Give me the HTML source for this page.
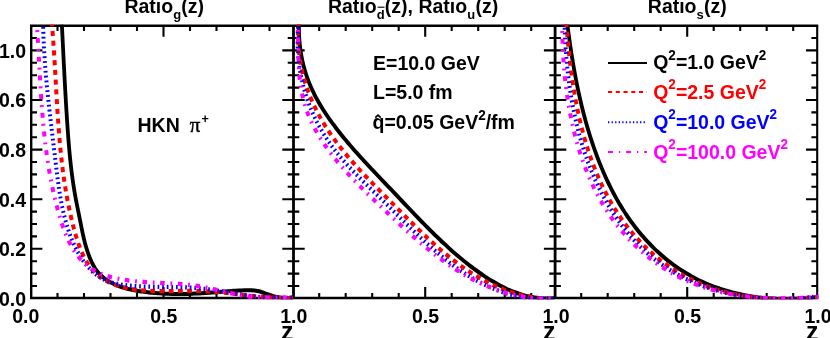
<!DOCTYPE html>
<html><head><meta charset="utf-8"><title>plot</title>
<style>html,body{margin:0;padding:0;background:#fff;}svg{display:block;will-change:transform;}text{font-family:"Liberation Sans",sans-serif;font-weight:bold;font-size:19.5px;fill:#000;}</style></head><body>
<svg width="830" height="338" viewBox="0 0 830 338">
<rect width="830" height="338" fill="#fff"/>
<defs>
<clipPath id="c1"><rect x="30.20" y="24.80" width="263.30" height="274.50"/></clipPath>
<clipPath id="c2"><rect x="293.50" y="24.80" width="261.60" height="274.50"/></clipPath>
<clipPath id="c3"><rect x="555.10" y="24.80" width="263.10" height="274.50"/></clipPath>
</defs>
<g stroke="#000" fill="none" stroke-linecap="butt">
<path d="M30.00,25.80 H818.25" stroke-width="2.4"/>
<path d="M30.00,298.00 H818.25" stroke-width="2.7"/>
<path d="M31.20,25.80 V298.00" stroke-width="2.4"/>
<path d="M817.20,25.80 V298.00" stroke-width="2.1"/>
<path d="M293.50,25.80 V298.00 M555.10,25.80 V298.00" stroke-width="2.8"/>
<path d="M31.20,286.00 h5.80 M287.70,286.00 h11.60 M549.30,286.00 h11.60 M817.20,286.00 h-5.80 M31.20,273.60 h5.80 M287.70,273.60 h11.60 M549.30,273.60 h11.60 M817.20,273.60 h-5.80 M31.20,261.20 h5.80 M287.70,261.20 h11.60 M549.30,261.20 h11.60 M817.20,261.20 h-5.80 M31.20,248.80 h11.20 M282.30,248.80 h22.40 M543.90,248.80 h22.40 M817.20,248.80 h-11.20 M31.20,236.40 h5.80 M287.70,236.40 h11.60 M549.30,236.40 h11.60 M817.20,236.40 h-5.80 M31.20,224.00 h5.80 M287.70,224.00 h11.60 M549.30,224.00 h11.60 M817.20,224.00 h-5.80 M31.20,211.60 h5.80 M287.70,211.60 h11.60 M549.30,211.60 h11.60 M817.20,211.60 h-5.80 M31.20,199.20 h11.20 M282.30,199.20 h22.40 M543.90,199.20 h22.40 M817.20,199.20 h-11.20 M31.20,186.80 h5.80 M287.70,186.80 h11.60 M549.30,186.80 h11.60 M817.20,186.80 h-5.80 M31.20,174.40 h5.80 M287.70,174.40 h11.60 M549.30,174.40 h11.60 M817.20,174.40 h-5.80 M31.20,162.00 h5.80 M287.70,162.00 h11.60 M549.30,162.00 h11.60 M817.20,162.00 h-5.80 M31.20,149.60 h11.20 M282.30,149.60 h22.40 M543.90,149.60 h22.40 M817.20,149.60 h-11.20 M31.20,137.20 h5.80 M287.70,137.20 h11.60 M549.30,137.20 h11.60 M817.20,137.20 h-5.80 M31.20,124.80 h5.80 M287.70,124.80 h11.60 M549.30,124.80 h11.60 M817.20,124.80 h-5.80 M31.20,112.40 h5.80 M287.70,112.40 h11.60 M549.30,112.40 h11.60 M817.20,112.40 h-5.80 M31.20,100.00 h11.20 M282.30,100.00 h22.40 M543.90,100.00 h22.40 M817.20,100.00 h-11.20 M31.20,87.60 h5.80 M287.70,87.60 h11.60 M549.30,87.60 h11.60 M817.20,87.60 h-5.80 M31.20,75.20 h5.80 M287.70,75.20 h11.60 M549.30,75.20 h11.60 M817.20,75.20 h-5.80 M31.20,62.80 h5.80 M287.70,62.80 h11.60 M549.30,62.80 h11.60 M817.20,62.80 h-5.80 M31.20,50.40 h11.20 M282.30,50.40 h22.40 M543.90,50.40 h22.40 M817.20,50.40 h-11.20 M31.20,38.00 h5.80 M287.70,38.00 h11.60 M549.30,38.00 h11.60 M817.20,38.00 h-5.80 M57.50,298.00 v-5.00 M57.50,25.80 v5.20 M84.00,298.00 v-5.00 M84.00,25.80 v5.20 M110.50,298.00 v-5.00 M110.50,25.80 v5.20 M137.00,298.00 v-5.00 M137.00,25.80 v5.20 M163.50,298.00 v-10.90 M163.50,25.80 v10.90 M190.00,298.00 v-5.00 M190.00,25.80 v5.20 M216.50,298.00 v-5.00 M216.50,25.80 v5.20 M243.00,298.00 v-5.00 M243.00,25.80 v5.20 M269.50,298.00 v-5.00 M269.50,25.80 v5.20 M319.20,298.00 v-5.00 M319.20,25.80 v5.20 M345.70,298.00 v-5.00 M345.70,25.80 v5.20 M372.20,298.00 v-5.00 M372.20,25.80 v5.20 M398.70,298.00 v-5.00 M398.70,25.80 v5.20 M425.20,298.00 v-10.90 M425.20,25.80 v10.90 M451.70,298.00 v-5.00 M451.70,25.80 v5.20 M478.20,298.00 v-5.00 M478.20,25.80 v5.20 M504.70,298.00 v-5.00 M504.70,25.80 v5.20 M531.20,298.00 v-5.00 M531.20,25.80 v5.20 M581.20,298.00 v-5.00 M581.20,25.80 v5.20 M607.70,298.00 v-5.00 M607.70,25.80 v5.20 M634.20,298.00 v-5.00 M634.20,25.80 v5.20 M660.70,298.00 v-5.00 M660.70,25.80 v5.20 M687.20,298.00 v-10.90 M687.20,25.80 v10.90 M713.70,298.00 v-5.00 M713.70,25.80 v5.20 M740.20,298.00 v-5.00 M740.20,25.80 v5.20 M766.70,298.00 v-5.00 M766.70,25.80 v5.20 M793.20,298.00 v-5.00 M793.20,25.80 v5.20" stroke-width="2.1"/>
</g>
<g clip-path="url(#c1)" fill="none"><g transform="scale(1,1.060)">
<path d="M61.63,18.88 C61.65,19.39 61.74,20.94 61.80,21.97 C61.85,23.00 61.91,24.03 61.96,25.07 C62.02,26.10 62.07,27.13 62.13,28.16 C62.19,29.20 62.24,30.23 62.30,31.26 C62.35,32.29 62.41,33.33 62.46,34.36 C62.52,35.39 62.57,36.43 62.63,37.46 C62.68,38.50 62.74,39.53 62.79,40.56 C62.84,41.60 62.90,42.63 62.95,43.67 C63.01,44.70 63.06,45.74 63.12,46.77 C63.17,47.80 63.23,48.84 63.28,49.87 C63.34,50.91 63.39,51.95 63.45,52.98 C63.50,54.02 63.56,55.05 63.61,56.09 C63.67,57.12 63.72,58.16 63.78,59.19 C63.84,60.23 63.89,61.27 63.95,62.30 C64.00,63.34 64.06,64.37 64.12,65.41 C64.17,66.45 64.23,67.48 64.29,68.52 C64.34,69.55 64.40,70.59 64.46,71.63 C64.52,72.66 64.57,73.70 64.63,74.74 C64.69,75.77 64.75,76.81 64.81,77.84 C64.87,78.88 64.93,79.92 64.99,80.95 C65.05,81.99 65.11,83.03 65.17,84.06 C65.23,85.10 65.29,86.14 65.35,87.17 C65.41,88.21 65.48,89.24 65.54,90.28 C65.60,91.32 65.67,92.35 65.73,93.39 C65.79,94.43 65.86,95.46 65.92,96.50 C65.99,97.53 66.05,98.57 66.12,99.61 C66.19,100.64 66.25,101.68 66.32,102.71 C66.39,103.75 66.46,104.79 66.53,105.82 C66.59,106.86 66.66,107.89 66.74,108.93 C66.81,109.96 66.88,111.00 66.95,112.03 C67.02,113.07 67.09,114.10 67.17,115.14 C67.24,116.17 67.31,117.21 67.39,118.24 C67.46,119.28 67.54,120.31 67.62,121.34 C67.69,122.38 67.77,123.41 67.85,124.45 C67.93,125.48 68.01,126.51 68.09,127.55 C68.18,128.58 68.26,129.61 68.34,130.65 C68.43,131.68 68.52,132.71 68.60,133.75 C68.69,134.78 68.78,135.81 68.87,136.84 C68.97,137.88 69.06,138.91 69.16,139.94 C69.25,140.97 69.35,142.00 69.45,143.03 C69.55,144.06 69.65,145.10 69.76,146.13 C69.86,147.16 69.97,148.19 70.08,149.22 C70.19,150.25 70.30,151.28 70.42,152.31 C70.53,153.34 70.65,154.37 70.77,155.39 C70.90,156.42 71.02,157.45 71.15,158.48 C71.28,159.51 71.41,160.54 71.54,161.56 C71.68,162.59 71.81,163.62 71.95,164.64 C72.10,165.67 72.24,166.70 72.39,167.72 C72.54,168.75 72.69,169.78 72.85,170.80 C73.00,171.83 73.16,172.85 73.33,173.88 C73.49,174.90 73.66,175.93 73.83,176.95 C74.00,177.97 74.18,179.00 74.36,180.02 C74.54,181.04 74.73,182.06 74.92,183.09 C75.11,184.11 75.30,185.13 75.50,186.15 C75.70,187.17 75.90,188.19 76.11,189.21 C76.32,190.23 76.53,191.25 76.74,192.27 C76.95,193.29 77.17,194.31 77.38,195.33 C77.60,196.35 77.81,197.37 78.03,198.38 C78.25,199.40 78.47,200.42 78.69,201.43 C78.91,202.45 79.12,203.47 79.34,204.48 C79.56,205.50 79.78,206.51 79.99,207.53 C80.20,208.54 80.42,209.55 80.63,210.57 C80.84,211.58 81.05,212.59 81.27,213.60 C81.48,214.61 81.70,215.63 81.92,216.64 C82.13,217.64 82.36,218.65 82.58,219.66 C82.81,220.67 83.04,221.67 83.28,222.68 C83.52,223.68 83.77,224.69 84.03,225.69 C84.28,226.69 84.55,227.69 84.82,228.69 C85.10,229.69 85.38,230.69 85.68,231.68 C85.98,232.68 86.29,233.67 86.61,234.66 C86.94,235.65 87.27,236.64 87.63,237.63 C87.98,238.62 88.35,239.61 88.74,240.59 C89.13,241.57 89.53,242.55 89.96,243.53 C90.38,244.51 90.83,245.49 91.29,246.46 C91.76,247.43 92.25,248.40 92.76,249.35 C93.28,250.29 93.82,251.23 94.39,252.14 C94.97,253.04 95.57,253.93 96.21,254.78 C96.85,255.62 97.53,256.43 98.24,257.21 C98.94,257.99 99.69,258.73 100.46,259.45 C101.23,260.16 102.03,260.84 102.86,261.49 C103.68,262.14 104.54,262.76 105.42,263.35 C106.30,263.94 107.20,264.50 108.12,265.03 C109.05,265.57 109.99,266.07 110.95,266.56 C111.91,267.04 112.90,267.50 113.89,267.93 C114.88,268.36 115.89,268.77 116.91,269.16 C117.93,269.55 118.97,269.91 120.01,270.26 C121.05,270.61 122.10,270.93 123.16,271.24 C124.22,271.54 125.28,271.83 126.35,272.10 C127.42,272.37 128.49,272.63 129.57,272.87 C130.65,273.11 131.74,273.33 132.82,273.54 C133.91,273.75 135.00,273.95 136.09,274.14 C137.19,274.32 138.28,274.49 139.38,274.66 C140.47,274.82 141.57,274.98 142.66,275.12 C143.76,275.27 144.86,275.40 145.95,275.53 C147.05,275.66 148.14,275.79 149.24,275.90 C150.33,276.02 151.43,276.12 152.52,276.22 C153.61,276.32 154.71,276.42 155.80,276.50 C156.89,276.59 157.99,276.67 159.08,276.74 C160.17,276.82 161.27,276.88 162.36,276.94 C163.45,277.00 164.54,277.05 165.64,277.10 C166.73,277.15 167.82,277.19 168.91,277.22 C170.01,277.26 171.10,277.29 172.19,277.31 C173.28,277.33 174.38,277.35 175.47,277.36 C176.56,277.37 177.66,277.37 178.75,277.37 C179.85,277.37 180.94,277.37 182.03,277.36 C183.13,277.35 184.22,277.33 185.32,277.31 C186.42,277.29 187.51,277.26 188.61,277.23 C189.71,277.20 190.80,277.16 191.90,277.12 C193.00,277.08 194.10,277.04 195.20,276.99 C196.30,276.94 197.40,276.88 198.50,276.82 C199.60,276.77 200.70,276.70 201.81,276.64 C202.91,276.57 204.01,276.50 205.12,276.43 C206.22,276.35 207.33,276.28 208.43,276.20 C209.54,276.12 210.64,276.04 211.75,275.96 C212.86,275.88 213.96,275.79 215.07,275.71 C216.17,275.63 217.28,275.54 218.38,275.46 C219.49,275.37 220.59,275.29 221.69,275.21 C222.80,275.12 223.90,275.04 225.00,274.96 C226.10,274.88 227.20,274.80 228.30,274.73 C229.40,274.65 230.50,274.58 231.60,274.51 C232.69,274.44 233.79,274.37 234.88,274.31 C235.97,274.25 237.07,274.19 238.15,274.14 C239.24,274.09 240.33,274.04 241.42,273.99 C242.50,273.95 243.58,273.91 244.66,273.88 C245.74,273.86 246.82,273.82 247.90,273.82 C248.97,273.81 250.04,273.80 251.12,273.84 C252.19,273.88 253.26,273.93 254.32,274.04 C255.39,274.14 256.46,274.28 257.52,274.49 C258.59,274.70 259.65,274.98 260.71,275.28 C261.78,275.59 262.84,275.96 263.90,276.32 C264.97,276.68 266.03,277.06 267.09,277.41 C268.16,277.77 269.22,278.13 270.29,278.45 C271.35,278.78 272.42,279.10 273.48,279.38 C274.55,279.66 275.62,279.92 276.69,280.14 C277.76,280.36 278.83,280.55 279.91,280.69 C280.98,280.82 282.06,280.91 283.14,280.98 C284.22,281.04 285.30,281.06 286.39,281.06 C287.47,281.07 288.56,281.04 289.66,281.02 C290.75,281.00 292.40,280.94 292.95,280.92" stroke="#000" stroke-width="3.8"/>
<path d="M51.55,18.87 C51.62,19.60 51.83,21.80 51.97,23.26 C52.10,24.73 52.23,26.19 52.36,27.66 C52.49,29.12 52.61,30.59 52.73,32.06 C52.85,33.52 52.97,34.99 53.09,36.46 C53.20,37.92 53.31,39.39 53.42,40.86 C53.53,42.32 53.64,43.79 53.74,45.26 C53.85,46.72 53.95,48.19 54.05,49.66 C54.15,51.12 54.24,52.59 54.34,54.06 C54.44,55.53 54.53,56.99 54.62,58.46 C54.72,59.93 54.81,61.40 54.90,62.86 C54.99,64.33 55.08,65.80 55.17,67.27 C55.26,68.73 55.34,70.20 55.43,71.67 C55.52,73.14 55.60,74.60 55.69,76.07 C55.78,77.54 55.86,79.00 55.95,80.47 C56.04,81.94 56.13,83.40 56.21,84.87 C56.30,86.34 56.39,87.80 56.48,89.27 C56.57,90.74 56.66,92.20 56.75,93.67 C56.84,95.13 56.93,96.60 57.02,98.06 C57.12,99.53 57.21,101.00 57.31,102.46 C57.40,103.92 57.50,105.39 57.60,106.85 C57.70,108.32 57.80,109.78 57.91,111.25 C58.01,112.71 58.12,114.17 58.23,115.64 C58.34,117.10 58.45,118.56 58.57,120.02 C58.68,121.49 58.80,122.95 58.92,124.41 C59.05,125.87 59.17,127.33 59.30,128.79 C59.43,130.25 59.56,131.71 59.70,133.17 C59.83,134.63 59.97,136.09 60.12,137.55 C60.26,139.01 60.41,140.47 60.56,141.93 C60.72,143.38 60.87,144.84 61.04,146.30 C61.20,147.76 61.37,149.21 61.54,150.67 C61.71,152.12 61.89,153.58 62.07,155.03 C62.26,156.49 62.45,157.94 62.64,159.39 C62.84,160.85 63.04,162.30 63.24,163.75 C63.45,165.20 63.66,166.66 63.88,168.11 C64.10,169.56 64.33,171.01 64.56,172.46 C64.79,173.91 65.03,175.35 65.28,176.80 C65.53,178.25 65.78,179.70 66.04,181.14 C66.30,182.59 66.57,184.03 66.84,185.48 C67.12,186.92 67.40,188.37 67.70,189.81 C67.99,191.25 68.29,192.70 68.60,194.14 C68.90,195.58 69.22,197.02 69.54,198.46 C69.87,199.90 70.20,201.34 70.55,202.77 C70.89,204.21 71.24,205.65 71.60,207.09 C71.96,208.52 72.33,209.96 72.71,211.39 C73.09,212.82 73.48,214.26 73.88,215.69 C74.28,217.12 74.69,218.55 75.12,219.98 C75.55,221.40 75.99,222.83 76.45,224.25 C76.92,225.67 77.40,227.08 77.91,228.49 C78.41,229.90 78.94,231.30 79.50,232.70 C80.06,234.09 80.64,235.49 81.26,236.86 C81.87,238.24 82.52,239.62 83.20,240.97 C83.88,242.32 84.60,243.67 85.35,244.97 C86.11,246.27 86.90,247.56 87.74,248.80 C88.58,250.04 89.46,251.24 90.38,252.39 C91.31,253.54 92.29,254.65 93.31,255.69 C94.33,256.74 95.40,257.72 96.52,258.66 C97.63,259.59 98.79,260.47 99.99,261.30 C101.19,262.13 102.43,262.91 103.70,263.65 C104.98,264.38 106.29,265.06 107.63,265.71 C108.97,266.35 110.35,266.94 111.74,267.50 C113.14,268.06 114.57,268.57 116.02,269.04 C117.47,269.52 118.94,269.96 120.43,270.36 C121.92,270.76 123.43,271.12 124.96,271.46 C126.48,271.79 128.02,272.09 129.57,272.36 C131.11,272.63 132.67,272.87 134.24,273.09 C135.80,273.30 137.37,273.49 138.94,273.65 C140.51,273.82 142.08,273.96 143.66,274.08 C145.23,274.20 146.81,274.29 148.38,274.38 C149.96,274.46 151.54,274.52 153.11,274.57 C154.69,274.62 156.27,274.65 157.85,274.67 C159.42,274.69 161.00,274.70 162.58,274.70 C164.16,274.70 165.74,274.69 167.31,274.68 C168.89,274.66 170.47,274.64 172.04,274.62 C173.62,274.59 175.19,274.57 176.77,274.54 C178.34,274.51 179.91,274.48 181.49,274.46 C183.06,274.44 184.63,274.41 186.19,274.40 C187.76,274.38 189.33,274.37 190.89,274.37 C192.46,274.37 194.02,274.38 195.58,274.40 C197.14,274.42 198.69,274.45 200.25,274.50 C201.80,274.54 203.35,274.60 204.90,274.67 C206.45,274.75 207.99,274.83 209.54,274.93 C211.08,275.03 212.62,275.14 214.16,275.25 C215.70,275.37 217.24,275.50 218.77,275.64 C220.31,275.77 221.85,275.91 223.38,276.06 C224.92,276.21 226.45,276.37 227.98,276.52 C229.51,276.68 231.05,276.85 232.58,277.01 C234.11,277.18 235.64,277.35 237.17,277.52 C238.71,277.69 240.24,277.86 241.77,278.03 C243.30,278.19 244.84,278.36 246.37,278.53 C247.91,278.70 249.44,278.86 250.98,279.02 C252.51,279.18 254.05,279.33 255.59,279.48 C257.13,279.63 258.67,279.77 260.22,279.91 C261.76,280.04 263.30,280.17 264.85,280.29 C266.40,280.40 267.95,280.51 269.50,280.61 C271.06,280.71 272.61,280.79 274.17,280.87 C275.73,280.94 277.29,281.00 278.86,281.04 C280.43,281.09 281.99,281.12 283.57,281.13 C285.14,281.15 286.72,281.15 288.30,281.13 C289.88,281.11 292.27,281.03 293.06,281.01" stroke="#ff0000" stroke-width="4" stroke-dasharray="4.8 4.4" stroke-dashoffset="8.0"/>
<path d="M43.11,18.89 C43.12,19.62 43.14,21.82 43.16,23.29 C43.19,24.75 43.22,26.22 43.26,27.69 C43.30,29.16 43.34,30.63 43.39,32.10 C43.44,33.57 43.49,35.04 43.56,36.51 C43.62,37.98 43.68,39.46 43.76,40.93 C43.83,42.40 43.91,43.88 43.99,45.35 C44.08,46.82 44.16,48.30 44.26,49.77 C44.35,51.25 44.45,52.72 44.55,54.20 C44.66,55.67 44.77,57.15 44.88,58.62 C44.99,60.10 45.11,61.58 45.23,63.05 C45.35,64.53 45.48,66.01 45.60,67.49 C45.73,68.96 45.87,70.44 46.00,71.92 C46.14,73.39 46.28,74.87 46.43,76.35 C46.57,77.83 46.72,79.31 46.87,80.78 C47.02,82.26 47.17,83.74 47.33,85.22 C47.48,86.69 47.64,88.17 47.81,89.65 C47.97,91.13 48.13,92.61 48.30,94.08 C48.47,95.56 48.64,97.04 48.81,98.51 C48.98,99.99 49.15,101.47 49.33,102.94 C49.50,104.42 49.68,105.90 49.86,107.37 C50.04,108.85 50.22,110.33 50.40,111.80 C50.58,113.28 50.77,114.75 50.95,116.22 C51.13,117.70 51.32,119.17 51.50,120.65 C51.69,122.12 51.88,123.59 52.06,125.06 C52.25,126.54 52.44,128.01 52.63,129.48 C52.82,130.95 53.00,132.42 53.19,133.89 C53.38,135.36 53.57,136.83 53.76,138.30 C53.94,139.77 54.13,141.23 54.32,142.70 C54.51,144.17 54.69,145.63 54.88,147.10 C55.06,148.56 55.25,150.03 55.43,151.49 C55.62,152.95 55.80,154.42 55.99,155.88 C56.17,157.34 56.35,158.80 56.54,160.26 C56.73,161.72 56.91,163.18 57.11,164.63 C57.30,166.09 57.50,167.55 57.70,169.00 C57.90,170.46 58.10,171.91 58.32,173.36 C58.53,174.82 58.75,176.27 58.98,177.72 C59.20,179.17 59.44,180.62 59.68,182.06 C59.93,183.51 60.18,184.96 60.45,186.40 C60.71,187.85 60.99,189.29 61.28,190.73 C61.57,192.17 61.87,193.61 62.19,195.05 C62.50,196.49 62.83,197.93 63.18,199.37 C63.52,200.80 63.88,202.24 64.26,203.67 C64.64,205.10 65.03,206.53 65.45,207.96 C65.86,209.39 66.29,210.82 66.74,212.24 C67.20,213.67 67.67,215.09 68.16,216.52 C68.65,217.94 69.17,219.36 69.71,220.77 C70.25,222.18 70.81,223.59 71.40,224.99 C71.98,226.39 72.60,227.78 73.24,229.15 C73.88,230.53 74.55,231.89 75.24,233.24 C75.94,234.59 76.67,235.92 77.43,237.23 C78.18,238.54 78.97,239.84 79.80,241.10 C80.62,242.37 81.47,243.62 82.37,244.84 C83.26,246.06 84.18,247.26 85.15,248.42 C86.11,249.59 87.11,250.72 88.15,251.82 C89.19,252.93 90.28,254.00 91.39,255.03 C92.51,256.06 93.67,257.06 94.87,257.99 C96.06,258.93 97.29,259.83 98.56,260.65 C99.82,261.47 101.11,262.23 102.44,262.91 C103.76,263.60 105.12,264.20 106.50,264.75 C107.87,265.30 109.28,265.78 110.71,266.22 C112.14,266.65 113.59,267.02 115.06,267.36 C116.53,267.70 118.02,267.98 119.52,268.24 C121.03,268.50 122.55,268.72 124.08,268.91 C125.61,269.11 127.16,269.27 128.72,269.42 C130.27,269.56 131.84,269.68 133.41,269.79 C134.98,269.90 136.56,269.99 138.14,270.06 C139.71,270.14 141.30,270.21 142.88,270.27 C144.47,270.32 146.05,270.37 147.64,270.41 C149.23,270.46 150.81,270.49 152.40,270.52 C153.99,270.55 155.58,270.58 157.17,270.60 C158.76,270.62 160.36,270.64 161.95,270.66 C163.54,270.68 165.13,270.70 166.72,270.72 C168.31,270.74 169.90,270.76 171.49,270.78 C173.08,270.81 174.66,270.83 176.25,270.87 C177.84,270.90 179.42,270.94 181.01,270.98 C182.59,271.03 184.17,271.08 185.75,271.15 C187.33,271.21 188.91,271.28 190.48,271.37 C192.05,271.45 193.62,271.55 195.19,271.66 C196.76,271.77 198.32,271.89 199.88,272.03 C201.45,272.17 203.00,272.32 204.56,272.49 C206.11,272.66 207.66,272.84 209.21,273.03 C210.76,273.23 212.30,273.43 213.84,273.65 C215.39,273.86 216.93,274.08 218.46,274.31 C220.00,274.54 221.54,274.78 223.08,275.02 C224.61,275.26 226.14,275.50 227.68,275.75 C229.21,275.99 230.74,276.24 232.28,276.49 C233.81,276.73 235.34,276.98 236.88,277.23 C238.41,277.47 239.94,277.71 241.48,277.95 C243.01,278.18 244.54,278.42 246.08,278.64 C247.62,278.86 249.15,279.08 250.69,279.29 C252.23,279.49 253.77,279.69 255.32,279.87 C256.86,280.06 258.41,280.23 259.96,280.39 C261.50,280.54 263.06,280.69 264.61,280.81 C266.17,280.94 267.72,281.05 269.29,281.14 C270.85,281.23 272.42,281.30 273.99,281.35 C275.56,281.39 277.13,281.42 278.71,281.43 C280.29,281.43 281.88,281.41 283.47,281.36 C285.06,281.31 286.65,281.24 288.26,281.14 C289.86,281.04 292.28,280.81 293.08,280.75" stroke="#0000ff" stroke-width="4" stroke-dasharray="1.7 2.9" stroke-dashoffset="2.6"/>
<path d="M36.46,18.83 C36.52,19.57 36.70,21.81 36.81,23.31 C36.92,24.80 37.03,26.29 37.14,27.78 C37.25,29.27 37.35,30.76 37.45,32.25 C37.56,33.74 37.66,35.23 37.76,36.72 C37.85,38.20 37.95,39.69 38.04,41.18 C38.14,42.66 38.23,44.15 38.32,45.63 C38.42,47.12 38.51,48.60 38.60,50.08 C38.69,51.57 38.78,53.05 38.86,54.53 C38.95,56.01 39.04,57.49 39.13,58.97 C39.22,60.45 39.30,61.93 39.39,63.41 C39.48,64.89 39.57,66.37 39.66,67.84 C39.74,69.32 39.83,70.80 39.92,72.27 C40.01,73.75 40.10,75.22 40.19,76.70 C40.29,78.17 40.38,79.65 40.47,81.12 C40.57,82.59 40.66,84.07 40.76,85.54 C40.86,87.01 40.96,88.48 41.06,89.95 C41.16,91.42 41.27,92.89 41.38,94.36 C41.48,95.83 41.59,97.30 41.70,98.77 C41.82,100.24 41.93,101.71 42.05,103.17 C42.17,104.64 42.29,106.11 42.41,107.57 C42.54,109.04 42.67,110.51 42.80,111.97 C42.93,113.44 43.07,114.90 43.21,116.37 C43.35,117.83 43.50,119.30 43.65,120.76 C43.80,122.22 43.95,123.69 44.11,125.15 C44.27,126.61 44.44,128.07 44.61,129.54 C44.78,131.00 44.95,132.46 45.13,133.92 C45.31,135.38 45.50,136.84 45.69,138.30 C45.88,139.76 46.08,141.22 46.29,142.68 C46.49,144.14 46.70,145.60 46.92,147.06 C47.14,148.52 47.36,149.97 47.59,151.43 C47.82,152.89 48.06,154.35 48.31,155.81 C48.55,157.26 48.81,158.72 49.07,160.18 C49.33,161.63 49.60,163.09 49.87,164.55 C50.15,166.00 50.43,167.46 50.73,168.92 C51.02,170.37 51.32,171.83 51.63,173.28 C51.94,174.74 52.26,176.19 52.59,177.65 C52.92,179.10 53.25,180.56 53.60,182.01 C53.95,183.47 54.30,184.92 54.67,186.37 C55.03,187.83 55.41,189.28 55.79,190.73 C56.18,192.19 56.57,193.64 56.98,195.10 C57.39,196.55 57.80,198.00 58.23,199.46 C58.66,200.91 59.09,202.36 59.54,203.81 C59.99,205.27 60.45,206.72 60.93,208.16 C61.41,209.61 61.90,211.05 62.41,212.49 C62.92,213.92 63.45,215.35 64.00,216.76 C64.55,218.18 65.12,219.58 65.72,220.97 C66.32,222.36 66.94,223.74 67.59,225.10 C68.24,226.45 68.92,227.80 69.62,229.11 C70.33,230.43 71.07,231.73 71.84,233.01 C72.62,234.28 73.42,235.53 74.27,236.76 C75.11,237.98 75.99,239.18 76.91,240.34 C77.84,241.51 78.80,242.64 79.80,243.74 C80.81,244.84 81.86,245.91 82.95,246.94 C84.05,247.97 85.19,248.97 86.37,249.91 C87.55,250.86 88.77,251.77 90.03,252.62 C91.28,253.47 92.57,254.28 93.89,255.02 C95.21,255.76 96.57,256.44 97.95,257.07 C99.32,257.70 100.73,258.27 102.15,258.79 C103.57,259.32 105.02,259.78 106.48,260.22 C107.93,260.66 109.41,261.05 110.89,261.42 C112.38,261.79 113.87,262.13 115.38,262.44 C116.88,262.76 118.39,263.05 119.91,263.31 C121.43,263.58 122.95,263.83 124.49,264.05 C126.02,264.28 127.56,264.48 129.10,264.67 C130.65,264.86 132.20,265.03 133.76,265.19 C135.31,265.35 136.88,265.49 138.44,265.62 C140.01,265.75 141.58,265.87 143.15,265.98 C144.73,266.09 146.31,266.18 147.89,266.28 C149.47,266.37 151.05,266.45 152.64,266.53 C154.23,266.62 155.82,266.69 157.41,266.77 C159.00,266.84 160.59,266.91 162.18,266.99 C163.77,267.06 165.36,267.13 166.96,267.21 C168.55,267.29 170.14,267.37 171.73,267.46 C173.33,267.54 174.92,267.63 176.51,267.73 C178.10,267.84 179.68,267.94 181.27,268.06 C182.85,268.18 184.44,268.31 186.02,268.46 C187.60,268.60 189.17,268.76 190.75,268.93 C192.32,269.11 193.89,269.29 195.45,269.50 C197.02,269.71 198.58,269.94 200.13,270.18 C201.69,270.43 203.24,270.70 204.78,270.98 C206.33,271.26 207.87,271.57 209.40,271.88 C210.94,272.19 212.47,272.52 214.00,272.85 C215.53,273.18 217.06,273.52 218.58,273.86 C220.11,274.20 221.63,274.54 223.15,274.89 C224.67,275.23 226.19,275.57 227.71,275.90 C229.22,276.23 230.74,276.56 232.26,276.88 C233.78,277.19 235.29,277.50 236.81,277.79 C238.33,278.08 239.85,278.35 241.37,278.61 C242.89,278.86 244.41,279.09 245.94,279.30 C247.46,279.51 248.99,279.70 250.52,279.85 C252.05,280.00 253.59,280.13 255.12,280.23 C256.66,280.33 258.20,280.40 259.75,280.45 C261.30,280.51 262.85,280.54 264.40,280.56 C265.96,280.58 267.52,280.59 269.09,280.59 C270.66,280.60 272.23,280.59 273.81,280.58 C275.39,280.58 276.98,280.57 278.58,280.57 C280.17,280.57 281.78,280.57 283.39,280.59 C285.00,280.61 286.62,280.63 288.25,280.68 C289.88,280.73 292.35,280.85 293.17,280.88" stroke="#ff00ff" stroke-width="4" stroke-dasharray="4.6 5.7 1.8 5.6" stroke-dashoffset="0.6"/>
</g></g>
<g clip-path="url(#c2)" fill="none"><g transform="scale(1,1.060)">
<path d="M299.07,18.08 C299.04,18.97 298.94,21.65 298.92,23.42 C298.90,25.18 298.91,26.92 298.95,28.65 C298.98,30.38 299.05,32.10 299.14,33.80 C299.23,35.50 299.35,37.18 299.49,38.85 C299.64,40.52 299.82,42.17 300.02,43.81 C300.22,45.45 300.45,47.07 300.71,48.68 C300.97,50.29 301.26,51.89 301.57,53.47 C301.88,55.06 302.23,56.63 302.60,58.18 C302.97,59.74 303.36,61.28 303.79,62.81 C304.22,64.34 304.67,65.86 305.15,67.37 C305.63,68.87 306.15,70.37 306.68,71.85 C307.22,73.33 307.78,74.80 308.38,76.26 C308.97,77.72 309.58,79.16 310.23,80.60 C310.87,82.04 311.54,83.46 312.24,84.88 C312.93,86.29 313.65,87.70 314.40,89.09 C315.14,90.49 315.91,91.87 316.70,93.25 C317.50,94.62 318.31,95.99 319.15,97.34 C319.98,98.70 320.84,100.05 321.72,101.39 C322.59,102.72 323.49,104.05 324.40,105.38 C325.31,106.70 326.25,108.01 327.19,109.32 C328.14,110.62 329.10,111.92 330.08,113.21 C331.05,114.50 332.05,115.78 333.05,117.06 C334.05,118.34 335.07,119.61 336.09,120.87 C337.12,122.13 338.16,123.39 339.20,124.64 C340.25,125.89 341.31,127.13 342.37,128.37 C343.44,129.61 344.52,130.84 345.60,132.07 C346.68,133.30 347.78,134.52 348.88,135.74 C349.98,136.96 351.09,138.17 352.20,139.38 C353.32,140.59 354.44,141.80 355.57,143.00 C356.70,144.20 357.84,145.40 358.98,146.59 C360.12,147.79 361.26,148.98 362.42,150.17 C363.57,151.36 364.72,152.54 365.88,153.72 C367.04,154.91 368.21,156.09 369.38,157.27 C370.55,158.44 371.72,159.62 372.89,160.79 C374.07,161.97 375.24,163.14 376.42,164.31 C377.60,165.49 378.78,166.66 379.96,167.83 C381.15,169.00 382.33,170.17 383.51,171.34 C384.70,172.51 385.88,173.68 387.07,174.85 C388.25,176.01 389.43,177.18 390.62,178.35 C391.80,179.52 392.98,180.70 394.16,181.87 C395.34,183.04 396.52,184.21 397.70,185.39 C398.88,186.56 400.05,187.73 401.23,188.90 C402.41,190.08 403.58,191.25 404.76,192.42 C405.93,193.59 407.11,194.77 408.29,195.93 C409.46,197.10 410.64,198.27 411.82,199.44 C413.00,200.61 414.18,201.77 415.36,202.93 C416.54,204.09 417.72,205.25 418.91,206.41 C420.10,207.57 421.28,208.72 422.47,209.87 C423.66,211.02 424.85,212.16 426.05,213.31 C427.25,214.45 428.44,215.59 429.65,216.72 C430.85,217.85 432.05,218.98 433.26,220.10 C434.47,221.22 435.69,222.34 436.91,223.45 C438.12,224.57 439.35,225.67 440.58,226.77 C441.80,227.87 443.04,228.96 444.28,230.05 C445.51,231.14 446.76,232.22 448.01,233.29 C449.26,234.36 450.52,235.42 451.78,236.48 C453.04,237.54 454.31,238.58 455.59,239.62 C456.87,240.66 458.15,241.69 459.44,242.71 C460.73,243.74 462.03,244.75 463.34,245.75 C464.65,246.75 465.96,247.75 467.29,248.73 C468.61,249.71 469.94,250.69 471.28,251.65 C472.63,252.61 473.98,253.56 475.34,254.50 C476.70,255.44 478.07,256.37 479.45,257.28 C480.82,258.20 482.21,259.10 483.61,259.99 C485.02,260.88 486.43,261.76 487.85,262.62 C489.27,263.48 490.70,264.33 492.15,265.15 C493.59,265.97 495.05,266.78 496.52,267.56 C497.99,268.35 499.47,269.11 500.96,269.85 C502.45,270.58 503.96,271.29 505.48,271.98 C506.99,272.66 508.53,273.32 510.07,273.94 C511.62,274.56 513.18,275.16 514.75,275.72 C516.32,276.28 517.91,276.81 519.51,277.30 C521.11,277.79 522.73,278.25 524.36,278.66 C525.99,279.08 527.63,279.46 529.30,279.79 C530.96,280.12 532.63,280.42 534.33,280.66 C536.02,280.91 537.73,281.12 539.46,281.27 C541.18,281.43 542.92,281.54 544.68,281.59 C546.44,281.65 548.22,281.66 550.01,281.61 C551.81,281.56 554.54,281.36 555.45,281.31" stroke="#000" stroke-width="3.8"/>
<path d="M298.98,18.37 C298.90,19.24 298.65,21.83 298.53,23.55 C298.41,25.26 298.32,26.97 298.26,28.68 C298.20,30.38 298.17,32.07 298.17,33.76 C298.17,35.45 298.19,37.13 298.25,38.80 C298.31,40.48 298.40,42.14 298.51,43.80 C298.63,45.46 298.77,47.11 298.94,48.75 C299.11,50.40 299.31,52.03 299.54,53.66 C299.77,55.29 300.02,56.90 300.30,58.52 C300.59,60.13 300.90,61.73 301.23,63.32 C301.57,64.92 301.93,66.50 302.33,68.08 C302.72,69.66 303.13,71.23 303.58,72.79 C304.02,74.35 304.49,75.90 304.98,77.45 C305.48,78.99 306.00,80.52 306.54,82.05 C307.09,83.58 307.66,85.09 308.25,86.60 C308.85,88.11 309.46,89.61 310.11,91.10 C310.75,92.59 311.41,94.07 312.10,95.54 C312.79,97.01 313.50,98.47 314.23,99.92 C314.96,101.37 315.71,102.81 316.49,104.25 C317.26,105.68 318.05,107.10 318.86,108.51 C319.68,109.93 320.51,111.33 321.36,112.72 C322.21,114.12 323.08,115.50 323.96,116.87 C324.85,118.25 325.75,119.61 326.67,120.96 C327.59,122.31 328.53,123.66 329.48,124.99 C330.43,126.32 331.40,127.64 332.38,128.95 C333.36,130.26 334.36,131.56 335.37,132.85 C336.37,134.14 337.40,135.42 338.43,136.70 C339.47,137.97 340.52,139.23 341.58,140.49 C342.64,141.75 343.71,142.99 344.79,144.24 C345.88,145.48 346.97,146.71 348.07,147.94 C349.18,149.16 350.29,150.38 351.42,151.60 C352.54,152.81 353.68,154.02 354.82,155.22 C355.96,156.43 357.11,157.62 358.27,158.82 C359.43,160.01 360.59,161.20 361.77,162.38 C362.94,163.57 364.12,164.75 365.31,165.93 C366.49,167.10 367.69,168.28 368.88,169.45 C370.08,170.62 371.28,171.79 372.49,172.96 C373.70,174.13 374.91,175.29 376.12,176.46 C377.34,177.62 378.56,178.79 379.78,179.95 C381.00,181.11 382.22,182.28 383.45,183.44 C384.67,184.60 385.90,185.77 387.13,186.93 C388.36,188.10 389.59,189.26 390.82,190.43 C392.05,191.60 393.28,192.77 394.51,193.94 C395.74,195.11 396.97,196.28 398.20,197.45 C399.43,198.62 400.67,199.80 401.90,200.97 C403.13,202.14 404.37,203.31 405.61,204.48 C406.84,205.65 408.08,206.82 409.32,207.98 C410.57,209.15 411.81,210.31 413.05,211.47 C414.30,212.63 415.55,213.78 416.80,214.93 C418.05,216.08 419.31,217.23 420.57,218.37 C421.82,219.51 423.09,220.65 424.35,221.78 C425.62,222.91 426.89,224.03 428.16,225.15 C429.44,226.27 430.72,227.38 432.00,228.48 C433.29,229.58 434.57,230.67 435.87,231.76 C437.16,232.84 438.46,233.92 439.77,234.99 C441.07,236.05 442.39,237.11 443.70,238.15 C445.02,239.20 446.34,240.24 447.68,241.26 C449.01,242.28 450.34,243.29 451.69,244.29 C453.03,245.29 454.38,246.28 455.74,247.25 C457.10,248.22 458.47,249.18 459.85,250.13 C461.22,251.07 462.60,252.00 464.00,252.92 C465.39,253.84 466.79,254.74 468.20,255.62 C469.61,256.50 471.02,257.37 472.45,258.22 C473.88,259.07 475.32,259.91 476.76,260.72 C478.21,261.54 479.67,262.34 481.13,263.12 C482.60,263.90 484.08,264.66 485.57,265.40 C487.06,266.14 488.55,266.86 490.06,267.56 C491.57,268.25 493.10,268.93 494.63,269.59 C496.16,270.25 497.71,270.88 499.26,271.50 C500.82,272.11 502.39,272.70 503.97,273.27 C505.55,273.83 507.15,274.38 508.76,274.90 C510.36,275.42 511.98,275.91 513.62,276.38 C515.25,276.85 516.90,277.30 518.56,277.71 C520.22,278.13 521.89,278.52 523.58,278.89 C525.27,279.25 526.98,279.59 528.70,279.90 C530.41,280.21 532.15,280.49 533.90,280.75 C535.65,281.00 537.41,281.22 539.19,281.42 C540.97,281.61 542.76,281.77 544.58,281.91 C546.39,282.04 548.22,282.14 550.06,282.22 C551.91,282.29 554.71,282.31 555.64,282.33" stroke="#ff0000" stroke-width="4" stroke-dasharray="4.8 4.4" stroke-dashoffset="8.0"/>
<path d="M298.83,18.95 C298.74,19.75 298.44,22.17 298.29,23.79 C298.13,25.40 298.00,27.03 297.89,28.66 C297.79,30.28 297.71,31.92 297.65,33.55 C297.60,35.19 297.57,36.83 297.57,38.47 C297.57,40.11 297.59,41.76 297.64,43.41 C297.69,45.05 297.77,46.70 297.87,48.35 C297.97,50.00 298.09,51.65 298.24,53.29 C298.40,54.94 298.57,56.59 298.78,58.24 C298.98,59.88 299.21,61.53 299.46,63.17 C299.72,64.81 300.00,66.46 300.30,68.09 C300.61,69.73 300.94,71.36 301.29,72.99 C301.65,74.62 302.03,76.25 302.44,77.87 C302.84,79.49 303.27,81.10 303.73,82.71 C304.19,84.32 304.67,85.92 305.18,87.52 C305.69,89.11 306.22,90.70 306.78,92.28 C307.34,93.86 307.92,95.43 308.53,96.99 C309.14,98.55 309.78,100.11 310.43,101.65 C311.09,103.19 311.78,104.72 312.48,106.24 C313.19,107.76 313.92,109.27 314.68,110.77 C315.43,112.27 316.21,113.76 317.01,115.23 C317.81,116.70 318.63,118.16 319.47,119.60 C320.32,121.05 321.18,122.48 322.07,123.90 C322.95,125.31 323.86,126.71 324.78,128.10 C325.71,129.48 326.65,130.85 327.61,132.20 C328.58,133.56 329.56,134.89 330.56,136.21 C331.56,137.53 332.58,138.83 333.61,140.12 C334.65,141.41 335.70,142.69 336.76,143.95 C337.83,145.21 338.91,146.46 340.00,147.70 C341.10,148.94 342.21,150.17 343.33,151.38 C344.45,152.60 345.58,153.81 346.73,155.01 C347.87,156.21 349.03,157.39 350.20,158.58 C351.36,159.76 352.54,160.93 353.73,162.10 C354.92,163.27 356.11,164.44 357.31,165.59 C358.52,166.75 359.73,167.91 360.95,169.06 C362.16,170.21 363.39,171.36 364.62,172.50 C365.85,173.65 367.09,174.79 368.32,175.94 C369.56,177.08 370.81,178.22 372.05,179.37 C373.30,180.51 374.55,181.66 375.80,182.81 C377.05,183.95 378.31,185.10 379.56,186.26 C380.81,187.41 382.07,188.57 383.32,189.73 C384.57,190.89 385.83,192.06 387.08,193.23 C388.33,194.40 389.59,195.57 390.84,196.75 C392.09,197.92 393.35,199.10 394.60,200.28 C395.86,201.46 397.12,202.64 398.38,203.82 C399.64,205.00 400.89,206.18 402.16,207.36 C403.42,208.54 404.68,209.72 405.95,210.89 C407.22,212.07 408.49,213.24 409.76,214.42 C411.03,215.59 412.30,216.75 413.58,217.92 C414.86,219.08 416.14,220.24 417.43,221.39 C418.71,222.55 420.00,223.70 421.30,224.84 C422.59,225.98 423.89,227.12 425.19,228.25 C426.49,229.37 427.80,230.49 429.11,231.61 C430.43,232.72 431.74,233.82 433.07,234.92 C434.39,236.01 435.72,237.10 437.06,238.17 C438.39,239.24 439.73,240.31 441.08,241.36 C442.43,242.41 443.78,243.45 445.14,244.47 C446.50,245.50 447.87,246.51 449.25,247.51 C450.62,248.51 452.01,249.50 453.40,250.47 C454.79,251.44 456.19,252.39 457.60,253.33 C459.00,254.27 460.42,255.19 461.84,256.10 C463.27,257.01 464.70,257.89 466.15,258.76 C467.59,259.63 469.04,260.49 470.50,261.32 C471.96,262.15 473.44,262.97 474.92,263.76 C476.40,264.55 477.89,265.32 479.39,266.07 C480.90,266.82 482.41,267.55 483.93,268.26 C485.46,268.97 486.99,269.65 488.54,270.31 C490.09,270.97 491.65,271.61 493.22,272.22 C494.79,272.83 496.37,273.42 497.96,273.98 C499.56,274.54 501.17,275.07 502.79,275.58 C504.41,276.09 506.04,276.57 507.69,277.02 C509.33,277.48 510.99,277.90 512.67,278.30 C514.34,278.69 516.03,279.06 517.73,279.40 C519.43,279.73 521.15,280.04 522.88,280.31 C524.61,280.59 526.36,280.83 528.12,281.05 C529.88,281.26 531.65,281.44 533.45,281.58 C535.24,281.73 537.04,281.84 538.87,281.92 C540.69,281.99 542.53,282.04 544.39,282.04 C546.24,282.05 548.11,282.02 550.00,281.96 C551.89,281.89 554.77,281.70 555.72,281.65" stroke="#0000ff" stroke-width="4" stroke-dasharray="1.7 2.9" stroke-dashoffset="2.6"/>
<path d="M297.59,18.24 C297.62,19.12 297.72,21.76 297.78,23.52 C297.83,25.27 297.87,27.02 297.91,28.77 C297.95,30.51 297.98,32.25 298.01,33.99 C298.04,35.73 298.06,37.46 298.09,39.18 C298.12,40.91 298.14,42.63 298.17,44.34 C298.20,46.06 298.23,47.77 298.27,49.47 C298.31,51.17 298.35,52.87 298.41,54.56 C298.47,56.25 298.53,57.93 298.61,59.61 C298.69,61.29 298.78,62.96 298.89,64.62 C298.99,66.29 299.12,67.94 299.26,69.59 C299.40,71.24 299.56,72.89 299.75,74.52 C299.94,76.15 300.14,77.78 300.37,79.40 C300.61,81.02 300.87,82.63 301.15,84.23 C301.44,85.83 301.76,87.42 302.11,89.01 C302.46,90.59 302.84,92.17 303.26,93.73 C303.67,95.30 304.12,96.86 304.62,98.41 C305.11,99.95 305.64,101.49 306.20,103.02 C306.76,104.55 307.37,106.07 308.00,107.58 C308.63,109.09 309.30,110.59 310.00,112.07 C310.70,113.56 311.43,115.04 312.19,116.51 C312.94,117.97 313.73,119.43 314.55,120.87 C315.36,122.32 316.20,123.75 317.07,125.17 C317.93,126.59 318.82,128.00 319.73,129.40 C320.65,130.80 321.58,132.19 322.53,133.56 C323.49,134.93 324.46,136.30 325.45,137.65 C326.45,139.00 327.46,140.33 328.49,141.66 C329.51,142.99 330.56,144.30 331.62,145.61 C332.68,146.91 333.76,148.21 334.85,149.50 C335.94,150.78 337.05,152.06 338.17,153.33 C339.29,154.59 340.43,155.85 341.58,157.10 C342.73,158.35 343.89,159.59 345.06,160.83 C346.24,162.06 347.42,163.29 348.62,164.51 C349.81,165.73 351.02,166.95 352.23,168.16 C353.45,169.37 354.67,170.57 355.91,171.77 C357.14,172.96 358.38,174.16 359.63,175.34 C360.88,176.53 362.14,177.72 363.40,178.90 C364.66,180.08 365.93,181.25 367.21,182.43 C368.48,183.60 369.76,184.77 371.04,185.94 C372.32,187.11 373.61,188.27 374.90,189.44 C376.19,190.60 377.48,191.76 378.78,192.93 C380.07,194.09 381.37,195.25 382.66,196.41 C383.96,197.57 385.26,198.74 386.55,199.90 C387.85,201.06 389.15,202.22 390.45,203.38 C391.75,204.53 393.05,205.69 394.36,206.84 C395.66,208.00 396.96,209.15 398.27,210.30 C399.58,211.45 400.89,212.59 402.20,213.73 C403.52,214.87 404.83,216.01 406.15,217.14 C407.47,218.27 408.79,219.39 410.11,220.51 C411.44,221.63 412.77,222.75 414.10,223.85 C415.43,224.96 416.77,226.06 418.11,227.15 C419.45,228.25 420.80,229.33 422.15,230.41 C423.50,231.48 424.85,232.55 426.21,233.61 C427.57,234.67 428.94,235.71 430.31,236.75 C431.68,237.79 433.06,238.82 434.44,239.84 C435.82,240.85 437.21,241.86 438.61,242.85 C440.00,243.85 441.41,244.83 442.81,245.80 C444.22,246.77 445.64,247.72 447.06,248.67 C448.49,249.61 449.92,250.54 451.35,251.45 C452.79,252.36 454.24,253.27 455.69,254.15 C457.15,255.03 458.61,255.90 460.08,256.75 C461.55,257.61 463.03,258.44 464.52,259.26 C466.01,260.08 467.51,260.88 469.01,261.67 C470.52,262.45 472.04,263.22 473.56,263.97 C475.09,264.71 476.63,265.44 478.17,266.15 C479.72,266.86 481.28,267.55 482.84,268.22 C484.41,268.89 485.99,269.53 487.58,270.16 C489.17,270.79 490.77,271.39 492.38,271.97 C494.00,272.56 495.62,273.12 497.25,273.66 C498.89,274.19 500.54,274.71 502.20,275.20 C503.86,275.69 505.53,276.16 507.22,276.60 C508.90,277.04 510.60,277.46 512.31,277.85 C514.02,278.24 515.75,278.60 517.49,278.94 C519.23,279.28 520.98,279.59 522.75,279.88 C524.51,280.16 526.29,280.42 528.09,280.65 C529.88,280.88 531.69,281.08 533.52,281.25 C535.34,281.43 537.18,281.57 539.03,281.68 C540.89,281.80 542.76,281.88 544.65,281.93 C546.53,281.98 548.43,282.00 550.35,281.99 C552.27,281.98 555.19,281.89 556.15,281.87" stroke="#ff00ff" stroke-width="4" stroke-dasharray="4.6 5.7 1.8 5.6" stroke-dashoffset="0.6"/>
</g></g>
<g clip-path="url(#c3)" fill="none"><g transform="scale(1,1.060)">
<path d="M566.87,19.09 C566.98,19.92 567.31,22.42 567.53,24.08 C567.75,25.75 567.98,27.41 568.21,29.08 C568.45,30.75 568.68,32.41 568.92,34.08 C569.16,35.75 569.41,37.41 569.66,39.08 C569.91,40.75 570.16,42.41 570.42,44.08 C570.69,45.75 570.95,47.41 571.22,49.08 C571.49,50.74 571.77,52.41 572.05,54.08 C572.34,55.74 572.63,57.41 572.92,59.07 C573.22,60.74 573.52,62.40 573.83,64.07 C574.14,65.73 574.45,67.39 574.77,69.05 C575.10,70.72 575.43,72.38 575.76,74.04 C576.10,75.70 576.45,77.36 576.80,79.02 C577.15,80.68 577.51,82.34 577.88,83.99 C578.25,85.65 578.62,87.31 579.01,88.96 C579.39,90.62 579.79,92.27 580.19,93.92 C580.59,95.58 581.00,97.23 581.42,98.88 C581.84,100.53 582.27,102.17 582.71,103.82 C583.15,105.47 583.60,107.11 584.06,108.76 C584.51,110.40 584.98,112.04 585.46,113.68 C585.94,115.32 586.43,116.96 586.93,118.59 C587.43,120.23 587.94,121.86 588.46,123.50 C588.98,125.13 589.52,126.76 590.06,128.39 C590.60,130.02 591.16,131.64 591.72,133.27 C592.29,134.89 592.87,136.51 593.46,138.13 C594.05,139.75 594.65,141.36 595.27,142.97 C595.88,144.59 596.51,146.20 597.15,147.80 C597.79,149.40 598.45,151.00 599.11,152.60 C599.78,154.19 600.46,155.78 601.15,157.37 C601.84,158.95 602.55,160.53 603.27,162.11 C603.99,163.68 604.73,165.25 605.47,166.81 C606.22,168.37 606.98,169.92 607.76,171.47 C608.54,173.01 609.33,174.55 610.14,176.08 C610.94,177.61 611.77,179.14 612.60,180.65 C613.44,182.16 614.29,183.67 615.16,185.16 C616.03,186.66 616.91,188.15 617.81,189.62 C618.71,191.10 619.62,192.56 620.56,194.02 C621.49,195.47 622.44,196.92 623.40,198.35 C624.37,199.79 625.35,201.21 626.35,202.62 C627.34,204.03 628.36,205.43 629.39,206.81 C630.43,208.20 631.48,209.57 632.54,210.93 C633.61,212.29 634.70,213.64 635.80,214.97 C636.90,216.30 638.02,217.62 639.16,218.93 C640.30,220.23 641.45,221.52 642.62,222.79 C643.79,224.07 644.98,225.33 646.19,226.57 C647.39,227.81 648.61,229.04 649.85,230.25 C651.09,231.46 652.34,232.65 653.61,233.83 C654.88,235.00 656.17,236.16 657.48,237.30 C658.78,238.44 660.10,239.57 661.44,240.67 C662.77,241.77 664.12,242.86 665.49,243.92 C666.86,244.99 668.24,246.04 669.64,247.06 C671.04,248.09 672.46,249.09 673.89,250.08 C675.32,251.06 676.77,252.03 678.23,252.97 C679.69,253.91 681.17,254.83 682.66,255.73 C684.16,256.63 685.66,257.51 687.19,258.36 C688.71,259.22 690.25,260.05 691.80,260.85 C693.36,261.66 694.93,262.45 696.51,263.21 C698.09,263.97 699.69,264.70 701.30,265.41 C702.91,266.13 704.53,266.81 706.17,267.48 C707.81,268.15 709.46,268.79 711.12,269.41 C712.78,270.03 714.46,270.62 716.14,271.19 C717.83,271.77 719.52,272.31 721.23,272.84 C722.94,273.37 724.65,273.87 726.38,274.35 C728.11,274.83 729.84,275.29 731.59,275.73 C733.33,276.16 735.08,276.58 736.84,276.97 C738.60,277.36 740.37,277.73 742.15,278.07 C743.92,278.42 745.70,278.74 747.49,279.05 C749.28,279.35 751.07,279.63 752.87,279.89 C754.67,280.15 756.48,280.38 758.29,280.60 C760.10,280.82 761.91,281.01 763.73,281.18 C765.54,281.36 767.36,281.51 769.19,281.64 C771.01,281.77 772.84,281.88 774.66,281.96 C776.49,282.05 778.32,282.12 780.15,282.17 C781.98,282.21 783.81,282.24 785.65,282.24 C787.48,282.25 789.31,282.23 791.14,282.20 C792.97,282.16 794.80,282.11 796.63,282.03 C798.46,281.95 800.29,281.86 802.12,281.74 C803.94,281.62 805.76,281.49 807.58,281.33 C809.40,281.17 811.22,281.00 813.03,280.80 C814.85,280.60 817.56,280.26 818.46,280.15" stroke="#000" stroke-width="3.8"/>
<path d="M566.20,19.50 C566.26,20.31 566.45,22.76 566.58,24.40 C566.71,26.04 566.84,27.68 566.98,29.33 C567.12,30.98 567.26,32.64 567.41,34.30 C567.56,35.96 567.71,37.62 567.87,39.29 C568.03,40.96 568.20,42.64 568.37,44.32 C568.54,45.99 568.72,47.68 568.91,49.36 C569.09,51.05 569.28,52.74 569.48,54.43 C569.68,56.12 569.89,57.81 570.10,59.51 C570.31,61.21 570.54,62.91 570.76,64.61 C570.99,66.31 571.23,68.01 571.48,69.72 C571.72,71.42 571.97,73.13 572.24,74.83 C572.50,76.54 572.77,78.25 573.05,79.96 C573.33,81.67 573.62,83.38 573.92,85.09 C574.22,86.79 574.52,88.50 574.84,90.21 C575.16,91.92 575.49,93.63 575.83,95.34 C576.17,97.04 576.52,98.75 576.88,100.46 C577.24,102.16 577.61,103.87 577.99,105.57 C578.38,107.27 578.77,108.97 579.18,110.67 C579.58,112.36 580.00,114.06 580.43,115.75 C580.86,117.44 581.30,119.13 581.75,120.82 C582.21,122.51 582.67,124.19 583.15,125.87 C583.63,127.55 584.13,129.22 584.63,130.89 C585.14,132.57 585.66,134.23 586.19,135.89 C586.73,137.56 587.27,139.21 587.84,140.87 C588.40,142.52 588.97,144.17 589.56,145.81 C590.15,147.45 590.76,149.08 591.38,150.71 C592.00,152.34 592.64,153.96 593.29,155.58 C593.94,157.20 594.60,158.81 595.29,160.41 C595.97,162.01 596.67,163.61 597.38,165.20 C598.10,166.78 598.83,168.36 599.58,169.94 C600.33,171.51 601.09,173.07 601.87,174.63 C602.66,176.18 603.46,177.73 604.27,179.27 C605.09,180.81 605.92,182.33 606.78,183.85 C607.63,185.37 608.50,186.88 609.39,188.38 C610.28,189.88 611.19,191.37 612.12,192.85 C613.04,194.33 613.99,195.80 614.95,197.26 C615.92,198.71 616.90,200.16 617.91,201.60 C618.91,203.03 619.94,204.46 620.98,205.87 C622.03,207.28 623.09,208.68 624.18,210.07 C625.26,211.45 626.36,212.83 627.49,214.19 C628.61,215.55 629.75,216.90 630.92,218.23 C632.08,219.56 633.26,220.88 634.46,222.18 C635.66,223.48 636.88,224.76 638.11,226.03 C639.35,227.30 640.60,228.55 641.87,229.78 C643.14,231.02 644.43,232.24 645.74,233.43 C647.04,234.63 648.37,235.81 649.71,236.97 C651.05,238.12 652.40,239.26 653.77,240.38 C655.14,241.50 656.53,242.60 657.94,243.67 C659.34,244.75 660.76,245.81 662.19,246.84 C663.63,247.87 665.08,248.88 666.54,249.87 C668.00,250.86 669.48,251.83 670.98,252.78 C672.47,253.72 673.98,254.65 675.50,255.54 C677.02,256.44 678.55,257.32 680.10,258.17 C681.65,259.02 683.21,259.85 684.78,260.66 C686.35,261.46 687.94,262.24 689.54,263.00 C691.14,263.75 692.75,264.48 694.37,265.19 C695.99,265.90 697.63,266.58 699.27,267.24 C700.92,267.90 702.58,268.53 704.24,269.14 C705.91,269.75 707.59,270.34 709.28,270.90 C710.97,271.47 712.67,272.01 714.38,272.53 C716.09,273.04 717.81,273.54 719.54,274.01 C721.26,274.48 723.00,274.93 724.75,275.36 C726.50,275.79 728.25,276.20 730.02,276.58 C731.78,276.97 733.56,277.33 735.34,277.67 C737.12,278.01 738.91,278.33 740.71,278.63 C742.50,278.93 744.31,279.21 746.12,279.46 C747.93,279.72 749.75,279.96 751.57,280.17 C753.40,280.39 755.23,280.59 757.07,280.76 C758.91,280.94 760.75,281.10 762.60,281.23 C764.45,281.37 766.30,281.49 768.16,281.59 C770.02,281.68 771.89,281.76 773.76,281.82 C775.63,281.88 777.51,281.93 779.39,281.95 C781.27,281.97 783.15,281.98 785.04,281.96 C786.92,281.95 788.81,281.92 790.71,281.87 C792.60,281.82 794.50,281.75 796.40,281.67 C798.30,281.59 800.21,281.49 802.11,281.37 C804.02,281.25 805.92,281.11 807.83,280.96 C809.74,280.81 811.66,280.64 813.57,280.46 C815.48,280.27 818.36,279.96 819.31,279.86" stroke="#ff0000" stroke-width="4" stroke-dasharray="4.8 4.4" stroke-dashoffset="8.0"/>
<path d="M564.49,19.62 C564.51,20.45 564.57,22.93 564.63,24.59 C564.68,26.25 564.74,27.92 564.81,29.59 C564.88,31.26 564.95,32.94 565.04,34.62 C565.12,36.30 565.21,37.99 565.31,39.67 C565.41,41.36 565.52,43.06 565.63,44.75 C565.75,46.45 565.87,48.15 566.01,49.85 C566.14,51.55 566.29,53.26 566.44,54.97 C566.59,56.68 566.75,58.39 566.92,60.10 C567.09,61.81 567.27,63.53 567.47,65.25 C567.66,66.96 567.86,68.68 568.07,70.40 C568.28,72.12 568.50,73.84 568.73,75.56 C568.97,77.28 569.21,79.00 569.46,80.73 C569.72,82.45 569.98,84.17 570.26,85.89 C570.53,87.62 570.82,89.34 571.12,91.06 C571.42,92.78 571.73,94.50 572.06,96.22 C572.38,97.94 572.72,99.66 573.07,101.38 C573.41,103.10 573.77,104.81 574.15,106.52 C574.52,108.24 574.91,109.95 575.31,111.66 C575.71,113.37 576.12,115.08 576.55,116.78 C576.97,118.48 577.41,120.18 577.87,121.88 C578.32,123.58 578.79,125.27 579.27,126.96 C579.75,128.65 580.25,130.34 580.76,132.02 C581.27,133.71 581.80,135.38 582.34,137.06 C582.88,138.73 583.44,140.40 584.01,142.06 C584.58,143.73 585.16,145.38 585.77,147.04 C586.37,148.69 586.99,150.34 587.62,151.98 C588.25,153.62 588.90,155.25 589.57,156.88 C590.24,158.51 590.92,160.13 591.62,161.75 C592.32,163.36 593.03,164.97 593.77,166.57 C594.50,168.17 595.25,169.76 596.02,171.35 C596.78,172.93 597.57,174.51 598.37,176.08 C599.18,177.65 600.00,179.21 600.84,180.76 C601.67,182.31 602.53,183.86 603.41,185.39 C604.28,186.92 605.18,188.45 606.09,189.96 C607.00,191.48 607.94,192.98 608.89,194.48 C609.84,195.97 610.81,197.46 611.79,198.93 C612.78,200.40 613.79,201.86 614.81,203.31 C615.84,204.75 616.88,206.19 617.95,207.61 C619.01,209.03 620.09,210.43 621.19,211.82 C622.29,213.22 623.40,214.59 624.54,215.95 C625.67,217.31 626.83,218.66 628.00,219.98 C629.17,221.31 630.36,222.62 631.57,223.91 C632.78,225.20 634.00,226.48 635.25,227.73 C636.49,228.98 637.75,230.22 639.03,231.44 C640.31,232.65 641.61,233.85 642.92,235.03 C644.24,236.20 645.57,237.36 646.92,238.49 C648.27,239.63 649.64,240.74 651.02,241.83 C652.41,242.92 653.81,243.99 655.23,245.03 C656.65,246.08 658.09,247.10 659.54,248.10 C661.00,249.10 662.47,250.08 663.96,251.03 C665.45,251.99 666.95,252.92 668.47,253.83 C669.99,254.74 671.52,255.62 673.07,256.49 C674.62,257.35 676.19,258.19 677.77,259.01 C679.35,259.83 680.94,260.62 682.55,261.39 C684.16,262.17 685.78,262.92 687.42,263.65 C689.05,264.38 690.70,265.08 692.36,265.77 C694.02,266.45 695.70,267.11 697.38,267.75 C699.07,268.39 700.76,269.01 702.47,269.61 C704.18,270.20 705.90,270.78 707.63,271.33 C709.37,271.88 711.11,272.41 712.86,272.92 C714.61,273.43 716.38,273.92 718.15,274.39 C719.92,274.85 721.70,275.30 723.49,275.72 C725.28,276.14 727.08,276.54 728.89,276.92 C730.70,277.30 732.52,277.66 734.34,278.00 C736.17,278.34 738.00,278.66 739.84,278.95 C741.68,279.25 743.52,279.52 745.38,279.78 C747.23,280.03 749.09,280.26 750.96,280.47 C752.82,280.69 754.69,280.88 756.57,281.05 C758.45,281.22 760.33,281.37 762.22,281.50 C764.11,281.63 766.00,281.73 767.90,281.82 C769.79,281.91 771.69,281.98 773.60,282.03 C775.50,282.07 777.41,282.10 779.32,282.11 C781.23,282.11 783.15,282.10 785.06,282.07 C786.98,282.03 788.90,281.98 790.82,281.91 C792.74,281.83 794.66,281.74 796.58,281.62 C798.51,281.51 800.43,281.38 802.36,281.22 C804.28,281.07 806.21,280.90 808.13,280.71 C810.06,280.51 811.98,280.30 813.91,280.07 C815.83,279.84 818.72,279.44 819.68,279.32" stroke="#0000ff" stroke-width="4" stroke-dasharray="1.7 2.9" stroke-dashoffset="2.6"/>
<path d="M562.20,19.52 C562.21,20.35 562.20,22.83 562.21,24.49 C562.22,26.15 562.24,27.83 562.27,29.50 C562.29,31.18 562.33,32.87 562.37,34.56 C562.41,36.25 562.46,37.94 562.52,39.64 C562.58,41.35 562.65,43.05 562.73,44.77 C562.81,46.48 562.90,48.20 563.00,49.92 C563.09,51.64 563.20,53.37 563.32,55.10 C563.44,56.83 563.56,58.56 563.70,60.30 C563.84,62.03 563.99,63.77 564.15,65.52 C564.31,67.26 564.48,69.00 564.66,70.75 C564.84,72.50 565.03,74.25 565.24,76.00 C565.44,77.75 565.66,79.50 565.88,81.25 C566.11,83.01 566.35,84.76 566.60,86.51 C566.86,88.27 567.12,90.02 567.40,91.78 C567.67,93.53 567.96,95.28 568.27,97.03 C568.57,98.79 568.88,100.54 569.21,102.29 C569.54,104.04 569.89,105.79 570.24,107.53 C570.60,109.28 570.97,111.02 571.35,112.76 C571.74,114.50 572.14,116.24 572.55,117.98 C572.96,119.71 573.39,121.45 573.83,123.17 C574.28,124.90 574.73,126.63 575.21,128.34 C575.68,130.06 576.17,131.78 576.67,133.49 C577.18,135.20 577.70,136.90 578.23,138.60 C578.77,140.30 579.32,142.00 579.89,143.68 C580.46,145.37 581.04,147.05 581.64,148.73 C582.25,150.40 582.86,152.07 583.50,153.73 C584.13,155.39 584.79,157.04 585.46,158.68 C586.13,160.33 586.82,161.97 587.52,163.59 C588.23,165.22 588.95,166.84 589.69,168.45 C590.43,170.06 591.19,171.66 591.97,173.25 C592.75,174.84 593.55,176.42 594.37,177.99 C595.18,179.56 596.02,181.13 596.87,182.67 C597.73,184.22 598.60,185.76 599.50,187.29 C600.39,188.82 601.31,190.33 602.24,191.83 C603.18,193.34 604.13,194.83 605.10,196.31 C606.08,197.78 607.07,199.25 608.09,200.70 C609.11,202.15 610.14,203.59 611.20,205.02 C612.26,206.44 613.34,207.85 614.44,209.25 C615.54,210.65 616.67,212.03 617.81,213.39 C618.95,214.76 620.12,216.11 621.30,217.45 C622.49,218.78 623.69,220.10 624.91,221.41 C626.14,222.71 627.38,224.00 628.64,225.27 C629.90,226.53 631.19,227.79 632.49,229.02 C633.78,230.26 635.10,231.47 636.44,232.67 C637.78,233.87 639.13,235.05 640.50,236.21 C641.87,237.37 643.26,238.51 644.67,239.63 C646.07,240.75 647.50,241.85 648.93,242.93 C650.37,244.01 651.83,245.07 653.30,246.11 C654.77,247.15 656.26,248.16 657.76,249.16 C659.26,250.15 660.78,251.13 662.31,252.08 C663.84,253.03 665.39,253.96 666.95,254.86 C668.51,255.77 670.08,256.65 671.67,257.51 C673.26,258.37 674.86,259.20 676.48,260.01 C678.09,260.82 679.72,261.60 681.36,262.36 C683.00,263.12 684.65,263.86 686.32,264.57 C687.98,265.28 689.66,265.96 691.35,266.62 C693.03,267.27 694.73,267.90 696.44,268.51 C698.15,269.12 699.88,269.70 701.61,270.26 C703.34,270.82 705.08,271.35 706.83,271.86 C708.58,272.37 710.35,272.86 712.12,273.33 C713.89,273.79 715.67,274.23 717.46,274.66 C719.24,275.08 721.04,275.47 722.85,275.85 C724.65,276.23 726.47,276.59 728.29,276.92 C730.11,277.26 731.94,277.57 733.77,277.87 C735.61,278.16 737.45,278.44 739.30,278.70 C741.15,278.95 743.01,279.19 744.87,279.41 C746.73,279.63 748.60,279.83 750.47,280.01 C752.35,280.19 754.23,280.36 756.11,280.50 C757.99,280.65 759.88,280.78 761.77,280.90 C763.67,281.01 765.56,281.11 767.46,281.19 C769.37,281.27 771.27,281.34 773.18,281.39 C775.09,281.44 777.00,281.48 778.91,281.50 C780.83,281.52 782.74,281.53 784.66,281.52 C786.58,281.52 788.50,281.50 790.42,281.47 C792.35,281.43 794.27,281.39 796.20,281.33 C798.12,281.27 800.05,281.20 801.97,281.12 C803.90,281.04 805.83,280.95 807.76,280.84 C809.68,280.74 811.61,280.63 813.54,280.50 C815.47,280.38 818.35,280.16 819.32,280.10" stroke="#ff00ff" stroke-width="4" stroke-dasharray="4.6 5.7 1.8 5.6" stroke-dashoffset="0.6"/>
</g></g>
<text transform="translate(26.00,305.70) scale(1,1.050)" text-anchor="end" >0.0</text>
<text transform="translate(26.00,256.10) scale(1,1.050)" text-anchor="end" >0.2</text>
<text transform="translate(26.00,206.50) scale(1,1.050)" text-anchor="end" >0.4</text>
<text transform="translate(26.00,156.90) scale(1,1.050)" text-anchor="end" >0.8</text>
<text transform="translate(26.00,107.30) scale(1,1.050)" text-anchor="end" >0.6</text>
<text transform="translate(26.00,57.70) scale(1,1.050)" text-anchor="end" >1.0</text>
<text transform="translate(25.80,323.00) scale(1,1.050)" text-anchor="middle" >0.0</text>
<text transform="translate(163.70,323.00) scale(1,1.050)" text-anchor="middle" >0.5</text>
<text transform="translate(293.80,323.00) scale(1,1.050)" text-anchor="middle" >1.0</text>
<text transform="translate(425.50,323.00) scale(1,1.050)" text-anchor="middle" >0.5</text>
<text transform="translate(556.00,323.00) scale(1,1.050)" text-anchor="middle" >1.0</text>
<text transform="translate(687.50,323.00) scale(1,1.050)" text-anchor="middle" >0.5</text>
<text transform="translate(818.00,323.00) scale(1,1.050)" text-anchor="middle" >1.0</text>
<text transform="translate(293.60,340.30) scale(1,1.050)" text-anchor="end" style="font-size:25px">z</text>
<text transform="translate(555.40,340.30) scale(1,1.050)" text-anchor="end" style="font-size:25px">z</text>
<text transform="translate(818.60,340.30) scale(1,1.050)" text-anchor="end" style="font-size:25px">z</text>
<text transform="translate(124.40,12.60) scale(1,1.050)" text-anchor="start" >Ratio<tspan dy="6.2" style="font-size:13px">g</tspan><tspan dy="-6.2" dx="0.3">(z)</tspan></text>
<text transform="translate(327.90,12.60) scale(1,1.050)" text-anchor="start" >Ratio<tspan dy="6.2" style="font-size:13px">d</tspan><tspan dy="-6.2" dx="0.3">(z), Ratio</tspan><tspan dy="6.2" style="font-size:13px">u</tspan><tspan dy="-6.2" dx="0.3">(z)</tspan></text>
<path d="M377.6,7.2 H384.5" stroke="#000" stroke-width="1.1" fill="none"/>
<text transform="translate(647.80,12.60) scale(1,1.050)" text-anchor="start" >Ratio<tspan dy="6.2" style="font-size:13px">s</tspan><tspan dy="-6.2" dx="0.3">(z)</tspan></text>
<text transform="translate(137.50,131.80) scale(1,1.050)" text-anchor="start" >HKN</text>
<text x="189.8" y="131.8" style="font-family:'Liberation Serif',serif;font-weight:normal;font-size:21px;stroke:#000;stroke-width:0.45px">π</text>
<text transform="translate(201.40,123.00) scale(1,1.050)" text-anchor="start" style="font-size:12.6px">+</text>
<text transform="translate(373.00,70.10) scale(1,1.050)" text-anchor="start" >E=10.0 GeV</text>
<text transform="translate(373.00,99.30) scale(1,1.050)" text-anchor="start" >L=5.0 fm</text>
<text transform="translate(372.50,129.30) scale(1,1.050)" text-anchor="start" >q=0.05 GeV<tspan dy="-9.3" style="font-size:13.5px">2</tspan><tspan dy="9.3">/fm</tspan></text>
<path d="M375.3,117.7 L378.0,115.1 L380.7,117.7" stroke="#000" stroke-width="1.7" fill="none"/>
<path d="M608,62.90 H647" stroke="#000" stroke-width="2" fill="none"/>
<text transform="translate(653.20,69.40) scale(1,1.050)" text-anchor="start" style="fill:#000">Q<tspan dy="-9.3" style="font-size:13.5px">2</tspan><tspan dy="9.3">=1.0 GeV</tspan><tspan dy="-9.3" style="font-size:13.5px">2</tspan></text>
<path d="M608,91.90 H647" stroke="#ff0000" stroke-width="2" fill="none" stroke-dasharray="4.1 3.65"/>
<text transform="translate(653.20,99.10) scale(1,1.050)" text-anchor="start" style="fill:#ff0000">Q<tspan dy="-9.3" style="font-size:13.5px">2</tspan><tspan dy="9.3">=2.5 GeV</tspan><tspan dy="-9.3" style="font-size:13.5px">2</tspan></text>
<path d="M608,122.30 H647" stroke="#0000ff" stroke-width="2" fill="none" stroke-dasharray="1.3 2.26"/>
<text transform="translate(653.20,128.90) scale(1,1.050)" text-anchor="start" style="fill:#0000ff">Q<tspan dy="-9.3" style="font-size:13.5px">2</tspan><tspan dy="9.3">=10.0 GeV</tspan><tspan dy="-9.3" style="font-size:13.5px">2</tspan></text>
<path d="M608,152.00 H647" stroke="#ff00ff" stroke-width="2" fill="none" stroke-dasharray="5.0 5.9 1.3 5.9"/>
<text transform="translate(653.20,158.80) scale(1,1.050)" text-anchor="start" style="fill:#ff00ff">Q<tspan dy="-9.3" style="font-size:13.5px">2</tspan><tspan dy="9.3">=100.0 GeV</tspan><tspan dy="-9.3" style="font-size:13.5px">2</tspan></text>
</svg></body></html>
